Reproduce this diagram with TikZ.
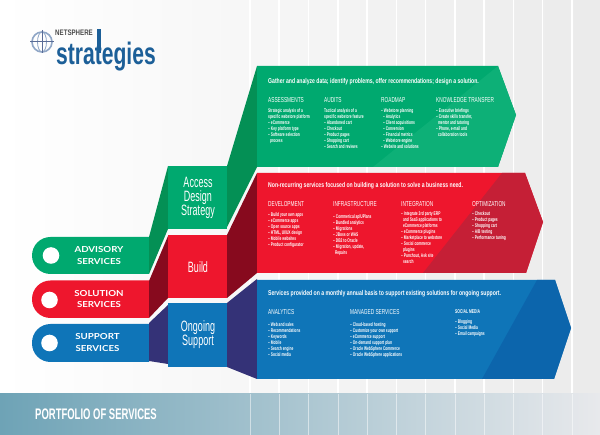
\documentclass[tikz,border=0pt]{standalone}
\usepackage{fontspec}
\setmainfont{Liberation Sans}
\newfontfamily\cond[FakeStretch=0.66]{Liberation Sans}
\newfontfamily\condb[FakeStretch=0.62]{Liberation Sans Bold}
\newfontfamily\headf[FakeStretch=0.73]{Liberation Sans Bold}
\newfontfamily\boxf[FakeStretch=0.6]{Liberation Sans}
\newfontfamily\netf[FakeStretch=0.77]{Liberation Sans Bold}
\newfontfamily\strf[FakeStretch=0.68]{Liberation Sans Bold}
\newfontfamily\pillf[FakeStretch=1.17]{Lato Bold}
\definecolor{grn}{HTML}{00A96F}
\definecolor{grnb}{HTML}{0DB077}
\definecolor{grnd}{HTML}{049055}
\definecolor{rd}{HTML}{EE162D}
\definecolor{rdb}{HTML}{C51F36}
\definecolor{rdd}{HTML}{870A1E}
\definecolor{blu}{HTML}{0F75B8}
\definecolor{blub}{HTML}{0C65AC}
\definecolor{ind}{HTML}{343277}
\definecolor{logob}{HTML}{1C5F98}
\definecolor{globec}{HTML}{8FA6C6}
\definecolor{globed}{HTML}{5A6C96}
\definecolor{bandl}{HTML}{6EA3B6}
\definecolor{bandr}{HTML}{E8E9EC}
\tikzset{
  x=1pt,y=-1pt,
  pilltxt/.style={text=white,align=center,font=\pillf\fontsize{8.3}{11.5}\selectfont,inner sep=0pt},
  boxtxt/.style={text=white,align=center,font=\boxf\fontsize{15}{14}\selectfont,inner sep=0pt},
  headtxt/.style={text=white,anchor=west,inner sep=0pt,font=\headf\fontsize{7}{7}\selectfont},
  coltitle/.style={text=white,anchor=west,inner sep=0pt,font=\cond\fontsize{7.2}{7}\selectfont},
  coltxt/.style={text=white,anchor=north west,align=left,inner sep=0pt,font=\condb\fontsize{5.3}{6}\selectfont},
  stripe/.style={white,line width=1.4pt},
}
\begin{document}
\begin{tikzpicture}
\useasboundingbox (0,0) rectangle (600,435);
% background
\fill[left color=white,right color=black!8] (0,0) rectangle (600,435);
\foreach \vx in {250,279,308.5,338,367,396.5,425.5,455,484,513.3,542.6,572}
  \draw[stripe] (\vx,0) -- (\vx,435);
% bottom band
\fill[left color=bandl,right color=bandr] (0,394) rectangle (600,435);
\foreach \vx in {250,279,308.5,338,367,396.5,425.5,455,484,513.3,542.6,572}
  \draw[white,line width=0.8pt,opacity=.5] (\vx,394) -- (\vx,435);
\node[text=white,anchor=west,inner sep=0pt,font=\condb\fontsize{15.3}{15}\selectfont] (ptitle) at (35,414.5) {PORTFOLIO OF SERVICES};
% logo
\draw[globec,line width=1.6pt] (42,42) circle (10);
\draw[globec,line width=.8pt] (42,42) ellipse (4.5 and 10);
\draw[globed,line width=1pt] (30,42) -- (54,42) (42,30) -- (42,53);
\fill[logob] (97,29) rectangle (100.5,53);
\node[anchor=west,inner sep=0pt,text=black!70,font=\netf\fontsize{8}{8}\selectfont] (lnet) at (55,33) {NETSPHERE};
\node[anchor=west,inner sep=0pt,text=logob,font=\strf\fontsize{31}{31}\selectfont] (lstr) at (56,57) {strategies};
% left pills
\fill[grn] (149,237) {[rounded corners=18.5pt] -- (32,237) -- (32,274)} -- (149,274) -- cycle;
\fill[rd] (149,280.5) {[rounded corners=18.5pt] -- (32,280.5) -- (32,318)} -- (149,318) -- cycle;
\fill[blu] (149,324) {[rounded corners=18.5pt] -- (32,324) -- (32,362)} -- (149,362) -- cycle;
% pill dots
\fill[white] (51,255.5) circle (8.3);
\fill[white] (49.5,300) circle (8.3);
\fill[white] (49.5,343) circle (8.3);
% 3D faces
\fill[grnd] (149,237) -- (168,166) -- (168,229) -- (149,274) -- cycle;
\fill[rdd] (149,281) -- (168,236) -- (168,298) -- (149,318) -- cycle;
\fill[ind] (149,323) -- (168,305) -- (168,364) -- (149,361) -- cycle;
% centre boxes
\fill[grn] (168,166) rectangle (227,229);
\fill[rd] (168,235) rectangle (227,298);
\fill[blu] (168,303) rectangle (227,367);
% right faces
\fill[grnd] (227,166) -- (257,66) -- (257,167) -- (227,227) -- cycle;
\fill[rdd] (227,235) -- (257,173) -- (257,273) -- (227,298) -- cycle;
\fill[ind] (227,303) -- (257,279) -- (257,379) -- (227,367) -- cycle;
% arrows
\fill[grn] (257,66) -- (498,66) -- (516,115) -- (498,167) -- (257,167) -- cycle;
\fill[grnb] (373,167) -- (498,66) -- (516,115) -- (498,167) -- cycle;
\fill[rd] (257,173) -- (525,173) -- (543,222) -- (526,273) -- (257,273) -- cycle;
\fill[rdb] (502,173) -- (525,173) -- (543,222) -- (526,273) -- (423,273) -- cycle;
\fill[blu] (257,280) -- (555,280) -- (571,328) -- (554,379) -- (257,379) -- cycle;
\fill[blub] (537,280) -- (555,280) -- (571,328) -- (554,379) -- (482,379) -- cycle;
% pill texts
\node[pilltxt] (p1) at (99,255.5) {ADVISORY\\SERVICES};
\node[pilltxt] (p2) at (99,299) {SOLUTION\\SERVICES};
\node[pilltxt] (p3) at (97.5,342.5) {SUPPORT\\SERVICES};
% box texts
\node[boxtxt] (b1) at (198,198) {Access\\Design\\Strategy};
\node[boxtxt] (b2) at (198,267) {Build};
\node[boxtxt] (b3) at (198,335) {Ongoing\\Support};
% green
\node[headtxt] (g0) at (268,81.5) {Gather and analyze data; identify problems, offer recommendations; design a solution.};
\node[coltitle] (g1) at (268,100) {ASSESSMENTS};
\node[coltitle] (g2) at (324,100) {AUDITS};
\node[coltitle] (g3) at (381,100) {ROADMAP};
\node[coltitle] (g4) at (436,100) {KNOWLEDGE TRANSFER};
\node[coltxt] (g1t) at (268,108) {Strategic analysis of a\\specific webstore platform\\– eCommerce\\– Key platform type\\– Software selection\\\ \ process};
\node[coltxt] (g2t) at (324,108) {Tactical analysis of a\\specific webstore feature\\– Abandoned cart\\– Checkout\\– Product pages\\– Shopping cart\\– Search and reviews};
\node[coltxt] (g3t) at (381,108) {– Webstore planning\\\ \ – Analytics\\\ \ – Client acquisitions\\\ \ – Conversion\\\ \ – Financial metrics\\\ \ – Webstore engine\\– Website and solutions};
\node[coltxt] (g4t) at (436,108) {– Executive briefings\\– Create skills transfer,\\\ \ mentor and tutoring\\– Phone, e-mail and\\\ \ collaboration tools};
% red
\node[headtxt] (r0) at (268,186) {Non-recurring services focused on building a solution to solve a business need.};
\node[coltitle] (r1) at (268,204) {DEVELOPMENT};
\node[coltitle] (r2) at (333,204) {INFRASTRUCTURE};
\node[coltitle] (r3) at (401,204) {INTEGRATION};
\node[coltitle] (r4) at (472,204) {OPTIMIZATION};
\node[coltxt] (r1t) at (268,212.5) {– Build your own apps\\– eCommerce apps\\– Open source apps\\– HTML, UI/UX design\\– Mobile websites\\– Product configurator};
\node[coltxt] (r2t) at (333,214) {– Commerical ap/UPlans\\– Bundled analytics\\– Migrations\\– JBoss or WAS\\– DB2 to Oracle\\– Migration, update,\\\ \ Repairs};
\node[coltxt] (r3t) at (401,211) {– Integrate 3rd party ERP\\\ \ and SaaS applications to\\\ \ eCommerce platforms\\– eCommerce plugins\\– Marketplace to webstore\\– Social commerce\\\ \ plugins\\– Punchout, Ask site\\\ \ search};
\node[coltxt] (r4t) at (472,211.5) {– Checkout\\– Product pages\\– Shopping cart\\– A/B testing\\– Performance tuning};
% blue
\node[headtxt] (u0) at (268,294) {Services provided on a monthly annual basis to support existing solutions for ongoing support.};
\node[coltitle] (u1) at (268,312) {ANALYTICS};
\node[coltitle] (u2) at (350,312) {MANAGED SERVICES};
\node[coltitle,font=\condb\fontsize{5.5}{6}\selectfont] (u3) at (455,312) {SOCIAL MEDIA};
\node[coltxt] (u1t) at (268,322) {– Web and sales\\– Recommendations\\– Keywords\\– Mobile\\– Search engine\\– Social media};
\node[coltxt] (u2t) at (350,322) {– Cloud-based hosting\\– Customize your own support\\– eCommerce support\\– On-demand support plan\\– Oracle WebSphere Commerce\\– Oracle WebSphere applications};
\node[coltxt] (u3t) at (455,319.5) {– Blogging\\– Social Media\\– Email campaigns};
\end{tikzpicture}
\end{document}
